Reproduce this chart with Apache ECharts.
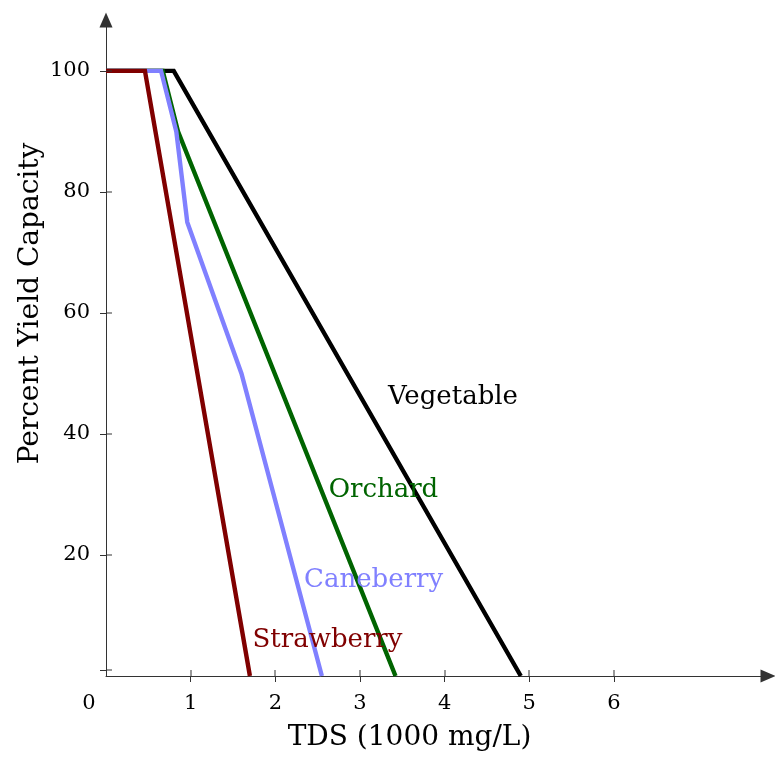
<!DOCTYPE html>
<html>
<head>
<meta charset="utf-8">
<script src="https://cdn.jsdelivr.net/npm/echarts@6/dist/echarts.min.js"></script>
<style>
html,body{margin:0;padding:0;background:#fff;}
#chart{width:775px;height:758px;}
</style>
</head>
<body>
<div id="chart"></div>
<script>
// ---- data ----
const seriesNames = ['Vegetable', 'Orchard', 'Caneberry', 'Strawberry'];
const vegetable  = [[0, 100], [0.8, 100], [4.9, 0]];
const orchard    = [[0, 100], [0.67, 100], [0.85, 90], [3.42, 0]];
const caneberry  = [[0, 100], [0.65, 100], [0.83, 90], [0.96, 75], [1.6, 50], [2.55, 0]];
const strawberry = [[0, 100], [0.46, 100], [1.7, 0]];
const labelAnchors = [[3.33, 46.0], [2.63, 30.7], [2.34, 15.9], [1.73, 5.9]];
const xTickValues = [1, 2, 3, 4, 5, 6];
const xLabelValues = [0, 1, 2, 3, 4, 5, 6];
const yTickValues = [1, 20, 40, 60, 80, 100];
const yLabelValues = [20, 40, 60, 80, 100];
const xName = 'TDS (1000 mg/L)';
const yName = 'Percent Yield Capacity';

// ---- styling ----
const colors = ['#000000', '#006400', '#8080ff', '#800000'];
const FONT = 'DejaVu Serif';
const X_MAX = 7.82, Y_MAX = 108.4;
const axisColor = '#333';
const TICK = 6;

const chart = echarts.init(document.getElementById('chart'), null, {renderer: 'canvas'});
const allData = [vegetable, orchard, caneberry, strawberry];

const series = allData.map((d, i) => ({
  type: 'line',
  name: seriesNames[i],
  data: d,
  showSymbol: false,
  symbol: 'none',
  animation: false,
  lineStyle: {color: colors[i], width: 4.4, join: 'miter', cap: 'butt'},
  z: 2 + i,
  markPoint: {
    symbol: 'circle',
    symbolSize: 0,
    animation: false,
    silent: true,
    data: [{
      coord: labelAnchors[i],
      label: {
        show: true,
        formatter: seriesNames[i],
        position: 'right',
        distance: 0,
        color: colors[i],
        fontFamily: FONT,
        fontSize: 26,
        verticalAlign: 'middle'
      }
    }]
  }
}));

const axisLineStyle = {show: true, onZero: false, lineStyle: {color: axisColor, width: 1},
                       symbol: ['none', 'triangle'], symbolSize: [13, 15]};

chart.setOption({
  animation: false,
  backgroundColor: '#fff',
  grid: {left: 106, right: 7, top: 20, bottom: 82, containLabel: false},
  xAxis: [{
    type: 'value', min: 0, max: X_MAX, position: 'bottom',
    splitLine: {show: false},
    name: xName,
    nameLocation: 'middle',
    nameGap: 48,
    nameMoveOverlap: false,
    nameTextStyle: {fontFamily: FONT, fontSize: 28, color: '#000', padding: [0, 55, 0, 0]},
    axisLine: axisLineStyle,
    axisTick: {show: true, inside: false, length: TICK, lineStyle: {color: axisColor}, customValues: xTickValues},
    axisLabel: {
      show: true, margin: 17, color: '#000', fontFamily: FONT, fontSize: 21,
      customValues: xLabelValues,
      formatter: v => v === 0 ? '{o|0}' : String(v),
      rich: {o: {fontFamily: FONT, fontSize: 21, color: '#000', padding: [0, 34, 0, 0]}}
    }
  }],
  yAxis: [{
    type: 'value', min: 0, max: Y_MAX, position: 'left',
    splitLine: {show: false},
    name: yName,
    nameLocation: 'middle',
    nameRotate: 90,
    nameGap: 61,
    nameMoveOverlap: false,
    nameTextStyle: {fontFamily: FONT, fontSize: 28, color: '#000', padding: [0, 0, 0, 89]},
    axisLine: axisLineStyle,
    axisTick: {show: true, inside: false, length: TICK, lineStyle: {color: axisColor}, customValues: yTickValues},
    axisLabel: {show: true, margin: 16, color: '#000', fontFamily: FONT, fontSize: 21, customValues: yLabelValues}
  }],
  series: series
});

// inner halves of the crossing tick marks, positioned through the axis scales
const innerTicks = [];
xTickValues.forEach(v => {
  const p = chart.convertToPixel({xAxisIndex: 0}, v);
  const y0 = chart.convertToPixel({yAxisIndex: 0}, 0);
  innerTicks.push({type: 'rect', silent: true, z: 100,
    shape: {x: Math.round(p) - 0.5, y: y0 - TICK, width: 1, height: TICK},
    style: {fill: axisColor}});
});
yTickValues.forEach(v => {
  const p = chart.convertToPixel({yAxisIndex: 0}, v);
  const x0 = chart.convertToPixel({xAxisIndex: 0}, 0);
  innerTicks.push({type: 'rect', silent: true, z: 100,
    shape: {x: x0, y: Math.round(p) - 0.5, width: TICK, height: 1},
    style: {fill: axisColor}});
});
chart.setOption({graphic: {elements: innerTicks}});
</script>
</body>
</html>
